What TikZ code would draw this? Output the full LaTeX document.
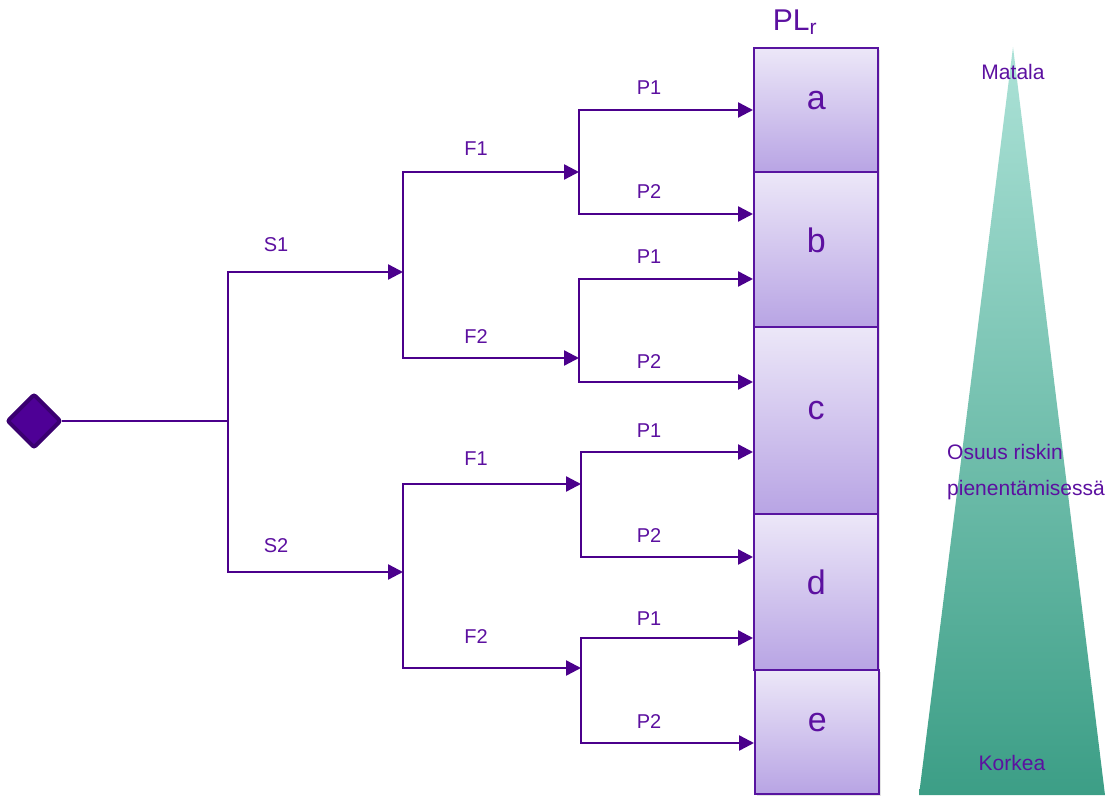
\documentclass[tikz,border=0pt]{standalone}
\usepackage{fontspec}
\setmainfont{Liberation Sans}
\usetikzlibrary{arrows.meta,shapes.geometric,shadows}
\definecolor{ink}{RGB}{75,0,140}
\definecolor{txt}{RGB}{92,16,160}
\definecolor{boxtop}{RGB}{236,231,248}
\definecolor{boxbot}{RGB}{184,164,228}
\definecolor{boxline}{RGB}{88,20,160}
\definecolor{tritop}{RGB}{172,226,215}
\definecolor{tribot}{RGB}{60,158,134}
\definecolor{diafill}{RGB}{78,0,150}
\definecolor{diadraw}{RGB}{58,0,112}

\begin{document}
\begin{tikzpicture}[x=1pt,y=-1pt,
  wire/.style={draw=ink,line width=2.4pt,line cap=rect},
  arr/.style={wire,-{Triangle[length=15pt,width=15pt]}},
  lbl/.style={text=txt,font=\fontsize{20}{22}\selectfont,inner sep=0pt},
  tlbl/.style={text=txt,font=\fontsize{21}{24}\selectfont,inner sep=0pt},
  plbox/.style={draw=boxline,line width=2.4pt,top color=boxtop,bottom color=boxbot,
    minimum width=124pt,anchor=north west,inner sep=0pt,text=txt,text depth=20pt,
    font=\fontsize{34}{36}\selectfont,
    drop shadow={opacity=0.22,shadow xshift=2pt,shadow yshift=-2pt}}]
\useasboundingbox (0,0) rectangle (1114,799);

% required performance level column
\node[plbox,minimum height=124pt] (a) at (753,47) {a};
\node[plbox,minimum height=155pt] (b) at (753,171) {b};
\node[plbox,minimum height=187pt] (c) at (753,326) {c};
\node[plbox,minimum height=156pt] (d) at (753,513) {d};
\node[plbox,minimum height=124pt] (e) at (754,669) {e};
\node[text=txt,font=\fontsize{30}{32}\selectfont,inner sep=0pt] (plr) at (795,22) {PL\textsubscript{r}};

% risk reduction wedge
\coordinate (apex) at (1013,47);
\coordinate (tl) at (919,795);
\coordinate (tr) at (1105,795);
\shade[top color=tritop,bottom color=tribot] (apex) -- (tr) -- (tl) -- cycle;
\node[tlbl] (low) at (1013,72) {Matala};
\node[tlbl,anchor=west] (share1) at (947,452) {Osuus riskin};
\node[tlbl,anchor=west] (share2) at (947,490) {pienentämisessä};
\node[tlbl] (high) at (1012,763) {Korkea};

% start point
\node[diamond,fill=diafill,draw=diadraw,line width=4pt,minimum size=54pt,inner sep=0pt,rounded corners=2pt] (start) at (34,421) {};
\coordinate (j0) at (228,421);
\draw[wire] (start) -- (j0);

% severity
\coordinate (s1) at (228,272);
\coordinate (s2) at (228,572);
\draw[wire] (s1) -- (s2);
\coordinate (mu) at (403,272);
\coordinate (ml) at (403,572);
\draw[arr] (s1) -- (mu);
\draw[arr] (s2) -- (ml);
\node[lbl] (lS1) at (276,245) {S1};
\node[lbl] (lS2) at (276,546) {S2};

% frequency
\coordinate (f1u) at (403,172);
\coordinate (f2u) at (403,358);
\coordinate (f1l) at (403,484);
\coordinate (f2l) at (403,668);
\draw[wire] (f1u) -- (f2u);
\draw[wire] (f1l) -- (f2l);
\coordinate (q1m) at (579,172);
\coordinate (q2m) at (579,358);
\coordinate (q3m) at (581,484);
\coordinate (q4m) at (581,668);
\draw[arr] (f1u) -- (q1m);
\draw[arr] (f2u) -- (q2m);
\draw[arr] (f1l) -- (q3m);
\draw[arr] (f2l) -- (q4m);
\node[lbl] (lF1u) at (476,149) {F1};
\node[lbl] (lF2u) at (476,337) {F2};
\node[lbl] (lF1l) at (476,459) {F1};
\node[lbl] (lF2l) at (476,637) {F2};

% possibility of avoidance
\coordinate (q1a) at (579,110);
\coordinate (q1b) at (579,214);
\coordinate (q2a) at (579,279);
\coordinate (q2b) at (579,382);
\coordinate (q3a) at (581,452);
\coordinate (q3b) at (581,557);
\coordinate (q4a) at (581,638);
\coordinate (q4b) at (581,743);
\draw[wire] (q1a) -- (q1b);
\draw[wire] (q2a) -- (q2b);
\draw[wire] (q3a) -- (q3b);
\draw[wire] (q4a) -- (q4b);
\draw[arr] (q1a) -- (q1a -| a.west);
\draw[arr] (q1b) -- (q1b -| b.west);
\draw[arr] (q2a) -- (q2a -| b.west);
\draw[arr] (q2b) -- (q2b -| c.west);
\draw[arr] (q3a) -- (q3a -| c.west);
\draw[arr] (q3b) -- (q3b -| d.west);
\draw[arr] (q4a) -- (q4a -| d.west);
\draw[arr] (q4b) -- (q4b -| e.west);
\node[lbl] (lP1a) at (649,88) {P1};
\node[lbl] (lP2a) at (649,192) {P2};
\node[lbl] (lP1b) at (649,257) {P1};
\node[lbl] (lP2b) at (649,362) {P2};
\node[lbl] (lP1c) at (649,431) {P1};
\node[lbl] (lP2c) at (649,536) {P2};
\node[lbl] (lP1d) at (649,619) {P1};
\node[lbl] (lP2d) at (649,722) {P2};
\end{tikzpicture}
\end{document}
